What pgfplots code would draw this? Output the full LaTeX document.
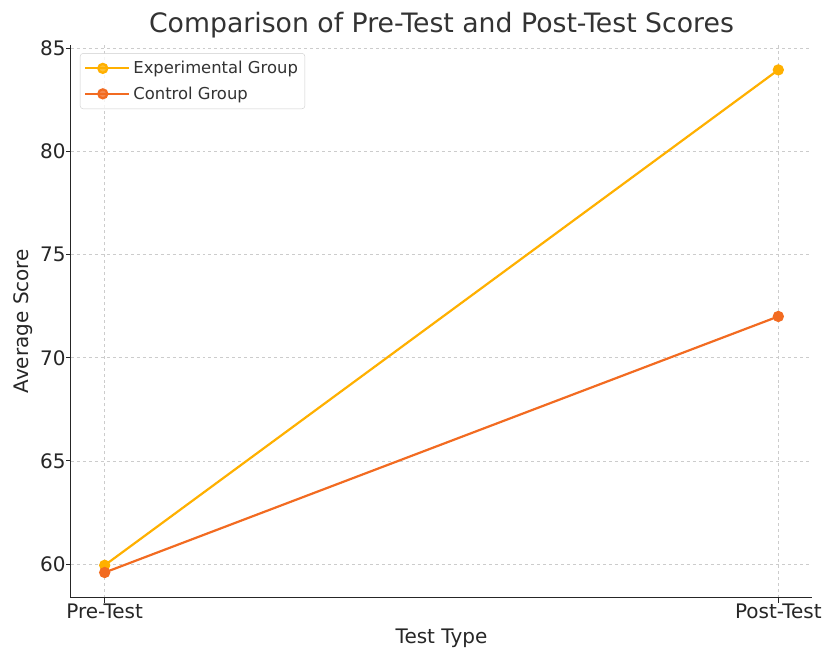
\documentclass[border=0pt]{standalone}
\usepackage{pgfplots}
\pgfplotsset{compat=1.18}
\usepackage{fontspec}
\setmainfont{DejaVu Sans}
\definecolor{expc}{HTML}{FFB000}
\definecolor{ctlc}{HTML}{F26B21}
\definecolor{gridc}{HTML}{CCCCCC}
\definecolor{txtc}{HTML}{333333}
\begin{document}
\begin{tikzpicture}
\begin{axis}[
  name=ax,
  scale only axis,
  width=741bp, height=553bp,
  xmin=-0.05, xmax=1.05,
  ymin=58.38, ymax=85.16,
  xtick={0,1}, xticklabels={Pre-Test,Post-Test},
  ytick={60,65,70,75,80,85},
  axis x line*=bottom, axis y line*=left,
  axis line style={line width=1bp, black!85},
  tick align=outside,
  major tick length=5bp,
  tick style={line width=1bp, black!85},
  grid=major,
  grid style={dashed, gridc, line width=0.8bp},
  /pgf/number format/assume math mode=true,
  ticklabel style={font=\fontsize{20bp}{24bp}\selectfont, text=black!85},
  xticklabel style={anchor=base, yshift=-16bp},
  yticklabel style={xshift=3bp},
  label style={font=\fontsize{20bp}{24bp}\selectfont, text=black!85},
  xlabel={Test Type},
  xlabel style={at={(0.5,0)}, anchor=base, yshift=-46bp},
  ylabel={Average Score},
  ylabel style={at={(0,0.5)}, anchor=base, yshift=42.5bp},
  title={Comparison of Pre-Test and Post-Test Scores},
  title style={at={(0.5,1)}, anchor=base, yshift=6.5bp, font=\fontsize{26.7bp}{30bp}\selectfont, text=txtc},
  legend style={at={(0,1)}, anchor=north west, xshift=9bp, yshift=-8.5bp,
    font=\fontsize{16.4bp}{20bp}\selectfont, text=txtc,
    draw=gridc, rounded corners=3bp, fill=white, fill opacity=0.8, text opacity=1,
    inner xsep=4bp, inner ysep=7bp, row sep=9.5bp,
    nodes={inner xsep=3bp, inner ysep=1bp}},
  legend cell align=left,
  legend image code/.code={
    \draw[#1, mark repeat=2, mark phase=2] plot coordinates {(0bp,0bp) (17.5bp,0bp) (35bp,0bp)};
    \path (0bp,0bp) -- (44bp,0bp);},
]
\addplot[expc, line width=2.2bp, mark=*, mark size=4.5bp] coordinates {(0,59.95) (1,83.94)};
\addlegendentry{Experimental Group}
\addplot[ctlc, line width=2.2bp, mark=*, mark size=4.5bp] coordinates {(0,59.6) (1,72.0)};
\addlegendentry{Control Group}
\end{axis}
\pgfresetboundingbox
\path ([shift={(-71bp,-53bp)}]ax.south west) rectangle ([shift={(12bp,44.7bp)}]ax.north east);
\end{tikzpicture}
\end{document}
